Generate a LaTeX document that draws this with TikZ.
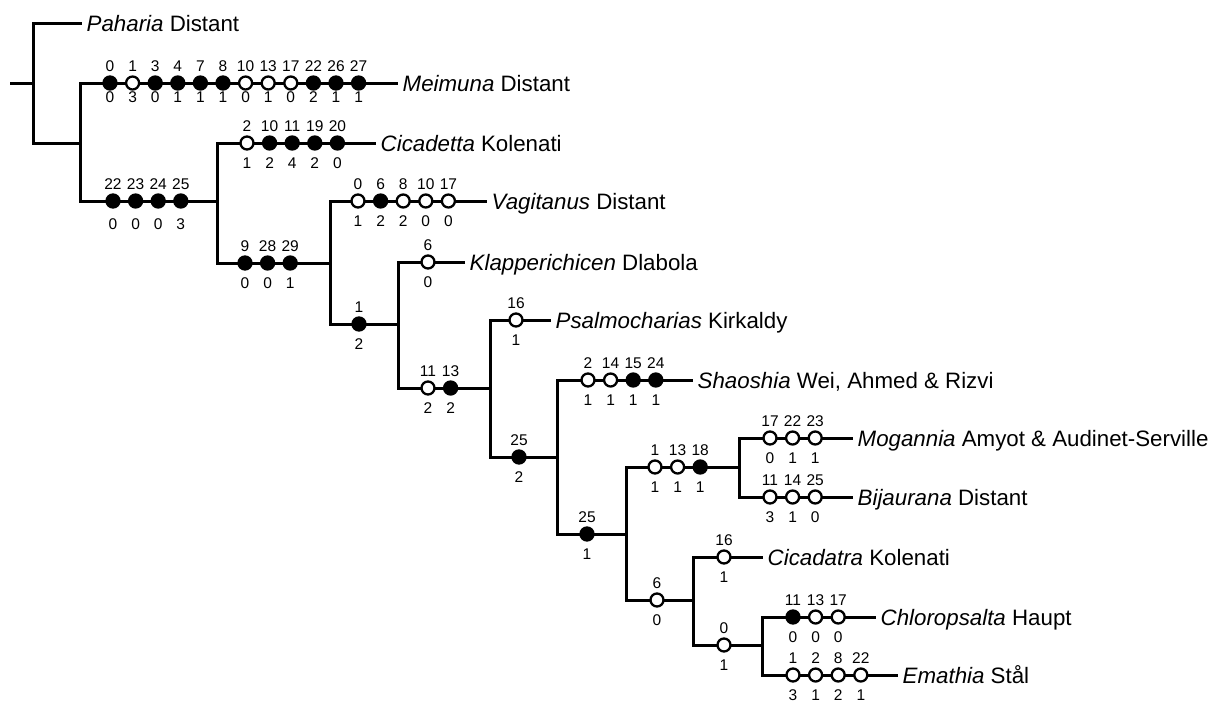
\documentclass[tikz,border=0pt]{standalone}
\usepackage{fontspec}
\setmainfont{Liberation Sans}
\usetikzlibrary{positioning}
\tikzset{%
	branch/.style = {line width = 3pt},
	chr/.style = {circle, draw, line width = 2.3pt, minimum size = 13pt, inner sep = 0pt},
	uniq/.style = {chr, fill = black},
	homo/.style = {chr, fill = white},
	num/.style = {inner sep = 0pt, font = \fontsize{15.5}{15.5}\selectfont},
	taxon/.style = {name = #1, anchor = west, inner xsep = 4.5pt, inner ysep = 0pt, text height = 16pt, text depth = 0pt, font = \fontsize{22.3}{27}\selectfont}
}
\newcommand{\traits}[5][20]{%
	\foreach \t/\b/\k [count = \i] in {#5} {
		\node [\k] (#2\i) at ({#3+(\i-1)*22.6}, #4) {};
		\node [num] (#2t\i) at ({#3+(\i-1)*22.6}, #4-17) {\t};
		\node [num] (#2b\i) at ({#3+(\i-1)*22.6}, #4+#1) {\b};
	}%
}

\begin{document}
\begin{tikzpicture}[x = 1pt, y = -1pt]
			\useasboundingbox (0,0) rectangle (1214,702);
			\coordinate (stem) at (10,83);
			\coordinate (root) at (33,83);
			\coordinate (nA) at (80,143);
			\coordinate (nB) at (217,201);
			\coordinate (nC) at (330,263);
			\coordinate (nD) at (398,324);
			\coordinate (nE) at (490,388);
			\coordinate (nF) at (557,457);
			\coordinate (nG) at (626,534);
			\coordinate (nH) at (739,467);
			\coordinate (nI) at (693,600);
			\coordinate (nJ) at (762,645);
			\node [taxon = Paharia] at (82,23) {\textit{Paharia} Distant};
			\node [taxon = Meimuna] at (398,83) {\textit{Meimuna} Distant};
			\node [taxon = Cicadetta] at (376,143) {\textit{Cicadetta} Kolenati};
			\node [taxon = Vagitanus] at (487,201) {\textit{Vagitanus} Distant};
			\node [taxon = Klapperichicen] at (465,262) {\textit{Klapperichicen} Dlabola};
			\node [taxon = Psalmocharias] at (551,320) {\textit{Psalmocharias} Kirkaldy};
			\node [taxon = Shaoshia] at (693,380) {\textit{Shaoshia} Wei, Ahmed \& Rizvi};
			\node [taxon = Mogannia] at (853,438) {\textit{Mogannia} Amyot \& Audinet-Serville};
			\node [taxon = Bijaurana] at (853,497) {\textit{Bijaurana} Distant};
			\node [taxon = Cicadatra] at (763,557) {\textit{Cicadatra} Kolenati};
			\node [taxon = Chloropsalta] at (876,617) {\textit{Chloropsalta} Haupt};
			\node [taxon = Emathia] at (898,675) {\textit{Emathia} Stål};
			\draw [branch] (stem) -- (root);
			\draw [branch] (root) |- (Paharia.west);
			\draw [branch] (root) |- (nA);
			\draw [branch] (nA) |- (Meimuna.west);
			\draw [branch] (nA) |- (nB);
			\draw [branch] (nB) |- (Cicadetta.west);
			\draw [branch] (nB) |- (nC);
			\draw [branch] (nC) |- (Vagitanus.west);
			\draw [branch] (nC) |- (nD);
			\draw [branch] (nD) |- (Klapperichicen.west);
			\draw [branch] (nD) |- (nE);
			\draw [branch] (nE) |- (Psalmocharias.west);
			\draw [branch] (nE) |- (nF);
			\draw [branch] (nF) |- (Shaoshia.west);
			\draw [branch] (nF) |- (nG);
			\draw [branch] (nG) |- (nH);
			\draw [branch] (nG) |- (nI);
			\draw [branch] (nH) |- (Mogannia.west);
			\draw [branch] (nH) |- (Bijaurana.west);
			\draw [branch] (nI) |- (Cicadatra.west);
			\draw [branch] (nI) |- (nJ);
			\draw [branch] (nJ) |- (Chloropsalta.west);
			\draw [branch] (nJ) |- (Emathia.west);
			\traits[14]{me}{110}{83}{0/0/uniq, 1/3/homo, 3/0/uniq, 4/1/uniq, 7/1/uniq, 8/1/uniq, 10/0/homo, 13/1/homo, 17/0/homo, 22/2/uniq, 26/1/uniq, 27/1/uniq}
			\traits[23]{bB}{113}{201}{22/0/uniq, 23/0/uniq, 24/0/uniq, 25/3/uniq}
			\traits{ci}{247}{143}{2/1/homo, 10/2/uniq, 11/4/uniq, 19/2/uniq, 20/0/uniq}
			\traits{bC}{245}{263}{9/0/uniq, 28/0/uniq, 29/1/uniq}
			\traits{va}{358}{201}{0/1/homo, 6/2/uniq, 8/2/homo, 10/0/homo, 17/0/homo}
			\traits{kl}{428}{262}{6/0/homo}
			\traits{bD}{359}{324}{1/2/uniq}
			\traits{bE}{428}{388}{11/2/homo, 13/2/uniq}
			\traits{ps}{516}{320}{16/1/homo}
			\traits{bF}{519}{457}{25/2/uniq}
			\traits{sh}{588}{380}{2/1/homo, 14/1/homo, 15/1/uniq, 24/1/uniq}
			\traits{bG}{587}{534}{25/1/uniq}
			\traits{bH}{655}{467}{1/1/homo, 13/1/homo, 18/1/uniq}
			\traits{mo}{770}{438}{17/0/homo, 22/1/homo, 23/1/homo}
			\traits{bi}{770}{497}{11/3/homo, 14/1/homo, 25/0/homo}
			\traits{cc}{724}{557}{16/1/homo}
			\traits{bI}{657}{600}{6/0/homo}
			\traits{bJ}{724}{645}{0/1/homo}
			\traits{cl}{793}{617}{11/0/uniq, 13/0/homo, 17/0/homo}
			\traits{em}{793}{675}{1/3/homo, 2/1/homo, 8/2/homo, 22/1/homo}
\end{tikzpicture}
\end{document}
